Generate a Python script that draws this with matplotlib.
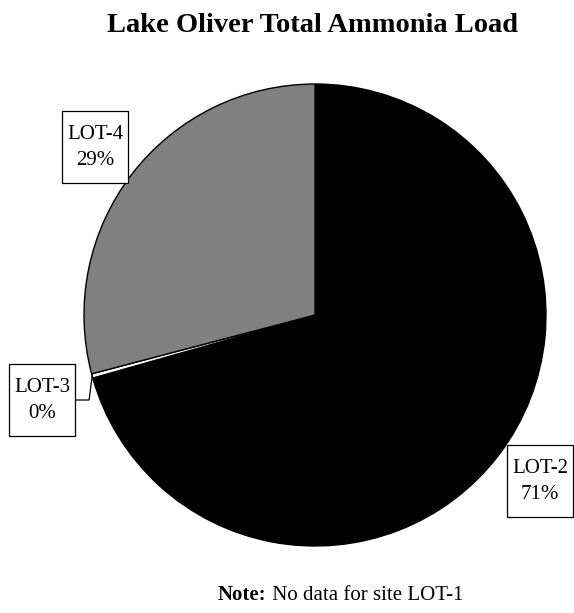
import numpy as np
import matplotlib
matplotlib.use("Agg")
import matplotlib.pyplot as plt
from matplotlib.patches import Rectangle

# load shares (percent), clockwise from 12 o'clock
sites = ["LOT-2", "LOT-3", "LOT-4"]
shares = [70.6, 0.3, 29.1]
colors = ["#000000", "#ffffff", "#808080"]

title = "Lake Oliver Total Ammonia Load"
note_bold = "Note:"
note_rest = " No data for site LOT-1"

plt.rcParams["font.family"] = ["Liberation Serif", "DejaVu Serif"]

W, H = 574, 613
fig = plt.figure(figsize=(W / 100, H / 100), dpi=100)

# pie centre (315, 315) px, radius 231 px
cx, cy, r = 315, 315, 231
ax = fig.add_axes([(cx - r) / W, (H - cy - r) / H, 2 * r / W, 2 * r / H])
wedges, _ = ax.pie(shares, colors=colors, startangle=90, counterclock=False,
                   wedgeprops=dict(edgecolor="black", linewidth=1.0))
ax.set_xlim(-1, 1)
ax.set_ylim(-1, 1)
ax.set_aspect("equal")
ax.axis("off")

# label box centres, in pie units
label_pos = {"LOT-2": (0.974, -0.719), "LOT-3": (-1.182, -0.368), "LOT-4": (-0.952, 0.727)}
bw, bh = 66 / r, 72 / r

for w, site, val in zip(wedges, sites, shares):
    lx, ly = label_pos[site]
    ax.add_patch(Rectangle((lx - bw / 2, ly - bh / 2), bw, bh, facecolor="white",
                           edgecolor="black", linewidth=0.9, zorder=4, clip_on=False))
    ax.text(lx, ly, f"{site}\n{val:.0f}%", ha="center", va="center", fontsize=15,
            linespacing=1.5, zorder=5, clip_on=False)
    if site == "LOT-3":
        mid = np.deg2rad((w.theta1 + w.theta2) / 2)
        ex, ey = np.cos(mid), np.sin(mid)
        elbow_x = -0.978
        ax.plot([ex, elbow_x, lx], [ey, ly, ly], color="black", linewidth=0.9,
                zorder=1, clip_on=False)

fig.text(313 / W, 1 - 32 / H, title, ha="center", va="baseline",
         fontsize=20.5, fontweight="bold")

t1 = fig.text(218 / W, 1 - 600 / H, note_bold, ha="left", va="baseline",
              fontsize=15, fontweight="bold")
fig.canvas.draw()
bb = t1.get_window_extent()
fig.text(bb.x1 / W, 1 - 600 / H, note_rest, ha="left", va="baseline", fontsize=15)

fig.savefig("out.png", dpi=100, facecolor="white")
